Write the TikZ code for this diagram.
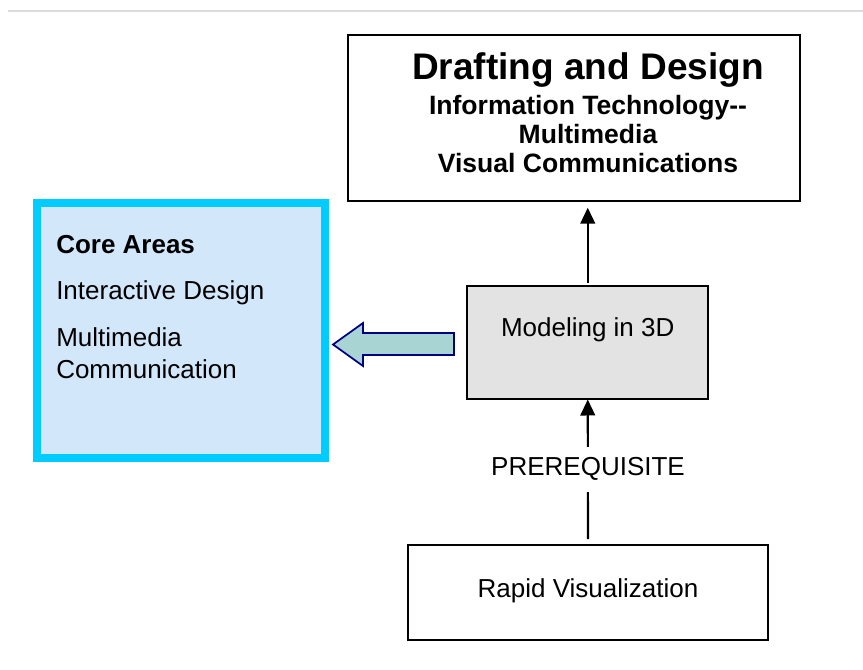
\documentclass[tikz,border=0pt]{standalone}
\usepackage{fontspec}
\setmainfont{Liberation Sans}
\usetikzlibrary{arrows.meta}
\definecolor{cyanb}{HTML}{00CCFF}
\definecolor{lightb}{HTML}{D3E7FB}
\definecolor{grayf}{HTML}{E3E3E3}
\definecolor{arrfill}{HTML}{A8D4D4}
\definecolor{navy}{HTML}{000080}
\definecolor{topline}{HTML}{DCDCDC}
\tikzset{
  blackbox/.style={draw=black, line width=1.5pt, rectangle, inner sep=0pt, outer sep=0pt},
  conn/.style={draw=black, line width=1.6pt, -{Triangle[length=12pt,width=11pt]}},
  bodytext/.style={font=\fontsize{19.5pt}{23pt}\selectfont, inner sep=0pt},
  titletext/.style={font=\fontsize{27.75pt}{32pt}\selectfont\bfseries, inner sep=0pt, anchor=base},
  subtext/.style={font=\fontsize{19.9pt}{23pt}\selectfont\bfseries, inner sep=0pt, anchor=base},
}
\begin{document}
\begin{tikzpicture}[x=0.75pt, y=-0.75pt]
\useasboundingbox (0,0) rectangle (863,669);
% top gray rule
\draw[topline, line width=0.9pt] (8,11) -- (863,11);
% boxes
\node[blackbox, fill=white, minimum width=339pt, minimum height=124.5pt] (top) at (574,118) {};
\node[blackbox, fill=grayf, minimum width=180.4pt, minimum height=85.1pt] (model) at (587.75,342.75) {};
\node[blackbox, fill=white, minimum width=270pt, minimum height=71.25pt] (rapid) at (588,592.5) {};
\node[draw=cyanb, line width=6pt, fill=lightb, rectangle, inner sep=0pt, outer sep=0pt,
      minimum width=216pt, minimum height=191.25pt] (core) at (181,330.5) {};
% top box texts
\node[titletext] (t1) at (588,79) {Drafting and Design};
\node[subtext] (t2) at (588,114.5) {Information Technology-{}-};
\node[subtext] (t3) at (588,143.5) {Multimedia};
\node[subtext] (t4) at (588,172.5) {Visual Communications};
% core texts
\node[bodytext, anchor=base west, font=\fontsize{19.5pt}{23pt}\selectfont\bfseries] (c1) at (56,253) {Core Areas};
\node[bodytext, anchor=base west] (c2) at (56,299.5) {Interactive Design};
\node[bodytext, anchor=base west] (c3) at (56,346.5) {Multimedia};
\node[bodytext, anchor=base west] (c4) at (56,378) {Communication};
% other texts
\node[bodytext, anchor=base] (mt) at (587.75,336) {Modeling in 3D};
\node[bodytext, anchor=base] (rt) at (588,597) {Rapid Visualization};
% connectors
\draw[conn, shorten <=4.5pt] (rapid.north) -- (model.south);
\node[bodytext, fill=white, minimum height=33.75pt, minimum width=150pt] (prq) at (588,469) {PREREQUISITE};
\draw[conn, shorten <=2pt, shorten >=5pt] (model.north) -- (model.north |- top.south);
% block arrow
\draw[navy, line width=1.3pt, fill=arrfill, line join=miter]
  (454,333) -- (363,333) -- (363,323) -- (333,344.5) -- (363,366) -- (363,355) -- (454,355) -- cycle;
\end{tikzpicture}
\end{document}
